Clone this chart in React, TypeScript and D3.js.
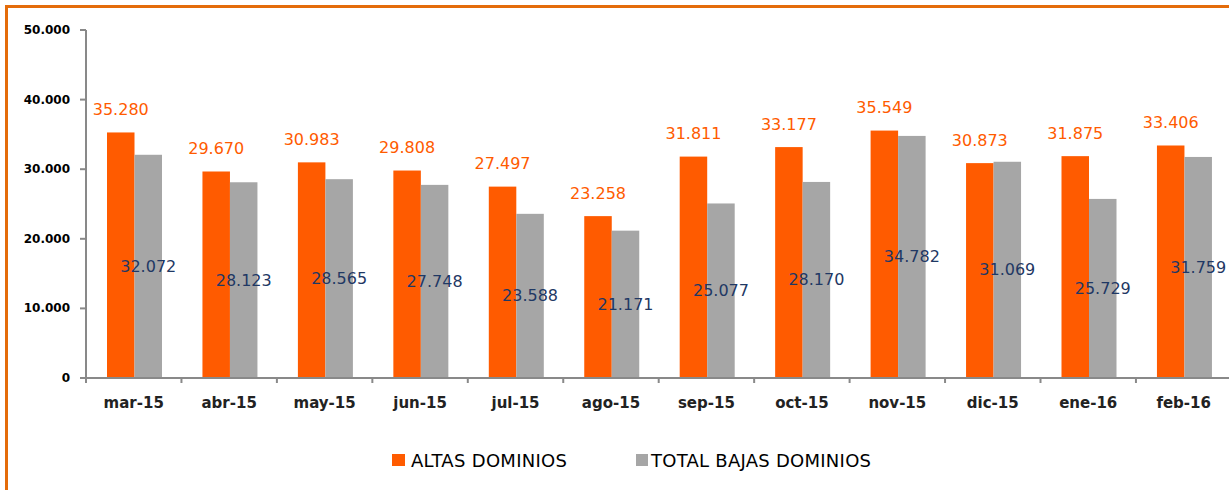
import React from "react";
import * as d3 from "d3";

const categories = ["mar-15", "abr-15", "may-15", "jun-15", "jul-15", "ago-15", "sep-15", "oct-15", "nov-15", "dic-15", "ene-16", "feb-16"];
const altas = [35280, 29670, 30983, 29808, 27497, 23258, 31811, 33177, 35549, 30873, 31875, 33406];
const bajas = [32072, 28123, 28565, 27748, 23588, 21171, 25077, 28170, 34782, 31069, 25729, 31759];
const yTicks = [0, 10000, 20000, 30000, 40000, 50000];
const seriesNames = ["ALTAS DOMINIOS", "TOTAL BAJAS DOMINIOS"];

const W = 1229;
const H = 490;
const ORANGE = "#FF5B00";
const GRAY = "#A6A6A6";
const AXIS = "#898989";
const FRAME = "#E46C0A";
const BLUE = "#1F3864";
const FONT = "'DejaVu Sans', Verdana, sans-serif";

const fmt = (v: number) => {
  if (v === 0) return "0";
  const s = String(Math.round(v));
  return s.replace(/\B(?=(\d{3})+(?!\d))/g, ".");
};

export default function App() {
  const x0 = 86;
  const step = 95.45;
  const x = d3.scaleBand<string>().domain(categories).range([x0, x0 + step * categories.length]).padding(0);
  const inner = d3.scaleBand<string>().domain(["a", "b"]).range([21, 76]).padding(0);
  const y = d3.scaleLinear().domain([0, 50000]).range([378, 30]);

  return (
    <svg width={W} height={H} style={{ position: "absolute", left: 0, top: 0, display: "block" }} fontFamily={FONT}>
      <rect x={0} y={0} width={W} height={H} fill="#fff" />
      <rect x={6.5} y={6.5} width={W + 20} height={H + 20} fill="none" stroke={FRAME} strokeWidth={3} />

      {/* y axis */}
      <line x1={x0} x2={x0} y1={y(50000)} y2={y(0)} stroke={AXIS} strokeWidth={2} />
      {yTicks.map((t) => (
        <g key={t}>
          <line x1={80} x2={x0} y1={y(t)} y2={y(t)} stroke={AXIS} strokeWidth={2} />
          <text x={70} y={y(t)} textAnchor="end" dominantBaseline="central" fontSize={12} fontWeight="bold" fill="#000">
            {fmt(t)}
          </text>
        </g>
      ))}

      {/* bars */}
      {categories.map((c, i) => {
        const bx = x(c)!;
        const ax = bx + inner("a")!;
        const gx = bx + inner("b")!;
        const bw = inner.bandwidth();
        return (
          <g key={c}>
            <rect x={ax} y={y(altas[i])} width={bw} height={y(0) - y(altas[i])} fill={ORANGE} />
            <rect x={gx} y={y(bajas[i])} width={bw} height={y(0) - y(bajas[i])} fill={GRAY} />
          </g>
        );
      })}

      {/* x axis */}
      <line x1={x0} x2={W} y1={y(0)} y2={y(0)} stroke={AXIS} strokeWidth={2} />
      {categories.map((c) => (
        <line key={"t" + c} x1={x(c)!} x2={x(c)!} y1={y(0)} y2={y(0) + 5} stroke={AXIS} strokeWidth={2} />
      ))}
      {categories.map((c) => (
        <text key={"l" + c} x={x(c)! + x.bandwidth() / 2} y={403} textAnchor="middle" dominantBaseline="central" fontSize={15} fontWeight="bold" fill="#222">
          {c}
        </text>
      ))}

      {/* value labels */}
      {categories.map((c, i) => {
        const bx = x(c)!;
        const bw = inner.bandwidth();
        return (
          <g key={"v" + c}>
            <text x={bx + inner("a")! + bw / 2} y={y(altas[i]) - 23} textAnchor="middle" dominantBaseline="central" fontSize={16} fill={ORANGE}>
              {fmt(altas[i])}
            </text>
            <text x={bx + inner("b")! + bw / 2} y={(y(bajas[i]) + y(0)) / 2} textAnchor="middle" dominantBaseline="central" fontSize={16} fill={BLUE}>
              {fmt(bajas[i])}
            </text>
          </g>
        );
      })}

      {/* legend */}
      <rect x={392} y={454} width={13} height={12} fill={ORANGE} />
      <text x={411} y={460} dominantBaseline="central" fontSize={18} fill="#000" textLength={156}>{seriesNames[0]}</text>
      <rect x={636} y={454} width={12} height={12} fill={GRAY} />
      <text x={651} y={460} dominantBaseline="central" fontSize={18} fill="#000" textLength={220}>{seriesNames[1]}</text>
    </svg>
  );
}
